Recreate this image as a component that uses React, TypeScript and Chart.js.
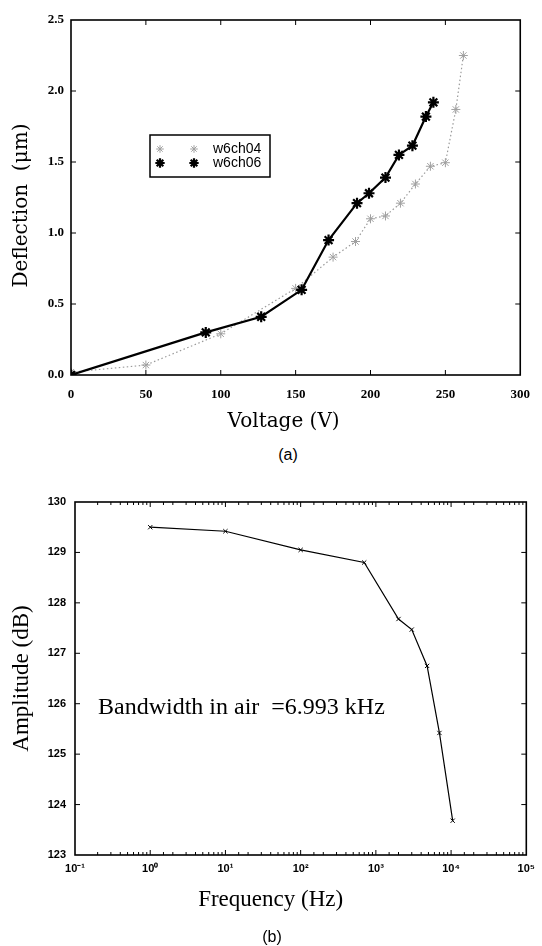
import React, { useEffect, useRef } from "react";
import { Chart, registerables } from "chart.js";
Chart.register(...registerables);

// ---------- Data: panel (a) ----------
const voltageTicks = [0, 50, 100, 150, 200, 250, 300];
const deflectionTicks = [0, 0.5, 1.0, 1.5, 2.0, 2.5];

const w6ch04Voltage = [0, 50, 100, 150, 175, 190, 200, 210, 220, 230, 240, 250, 257, 262];
const w6ch04Deflection = [0.02, 0.07, 0.29, 0.61, 0.83, 0.94, 1.1, 1.12, 1.21, 1.345, 1.47, 1.495, 1.87, 2.25];

const w6ch06Voltage = [0, 90, 127, 154, 172, 191, 199, 210, 219, 228, 237, 242];
const w6ch06Deflection = [0, 0.3, 0.41, 0.6, 0.95, 1.21, 1.28, 1.39, 1.55, 1.615, 1.82, 1.92];

const seriesNames = ["w6ch04", "w6ch06"];

// ---------- Data: panel (b) ----------
const frequencyHz = [1, 10, 100, 700, 2000, 3000, 4800, 7000, 10500];
const amplitudeDb = [129.5, 129.42, 129.05, 128.8, 127.68, 127.47, 126.75, 125.42, 123.68];
const frequencyTickLabels = ["10⁻¹", "10⁰", "10¹", "10²", "10³", "10⁴", "10⁵"];
const amplitudeTicks = [123, 124, 125, 126, 127, 128, 129, 130];
const annotationText = "Bandwidth in air  =6.993 kHz";

const isDecade = (v: number) => Math.abs(Math.log10(v) - Math.round(Math.log10(v))) < 1e-6;

const frameTicks = {
  id: "frameTicks",
  afterDraw(chart: any, _args: any, opts: any) {
    const { ctx, chartArea: a } = chart;
    const xs = chart.scales.x;
    const ys = chart.scales.y;
    ctx.save();
    ctx.strokeStyle = "#000";
    ctx.lineWidth = 1;
    const line = (x1: number, y1: number, x2: number, y2: number) => {
      ctx.beginPath();
      ctx.moveTo(x1, y1);
      ctx.lineTo(x2, y2);
      ctx.stroke();
    };
    xs.ticks.forEach((t: any) => {
      const px = xs.getPixelForValue(t.value);
      if (px < a.left + 0.5 || px > a.right - 0.5) return;
      const len = opts.logX ? (isDecade(t.value) ? opts.major : opts.minor) : opts.major;
      line(px, a.bottom, px, a.bottom - len);
      line(px, a.top, px, a.top + len);
    });
    ys.ticks.forEach((t: any) => {
      const py = ys.getPixelForValue(t.value);
      if (py < a.top + 0.5 || py > a.bottom - 0.5) return;
      line(a.left, py, a.left + opts.major, py);
      line(a.right, py, a.right - opts.major, py);
    });
    ctx.lineWidth = opts.frame;
    ctx.strokeRect(a.left, a.top, a.right - a.left, a.bottom - a.top);
    ctx.restore();
  },
};

// Axis titles, placed relative to the chart area
const axisTitles = {
  id: "axisTitles",
  afterDraw(chart: any, _args: any, opts: any) {
    const { ctx, chartArea: a } = chart;
    ctx.save();
    ctx.fillStyle = "#000";
    ctx.textAlign = "center";
    ctx.textBaseline = "middle";
    ctx.font = opts.font;
    ctx.fillText(opts.xText, (a.left + a.right) / 2 + opts.xdx, opts.xy);
    ctx.translate(opts.yx, (a.top + a.bottom) / 2 + opts.ydy);
    ctx.rotate(-Math.PI / 2);
    ctx.fillText(opts.yText, 0, 0);
    ctx.restore();
  },
};

const legendBox = {
  id: "legendBox",
  afterDraw(chart: any, _args: any, opts: any) {
    if (!opts.show) return;
    const { ctx } = chart;
    ctx.save();
    ctx.fillStyle = "#fff";
    ctx.fillRect(opts.x, opts.y, opts.w, opts.h);
    ctx.strokeStyle = "#000";
    ctx.lineWidth = 1.5;
    ctx.strokeRect(opts.x, opts.y, opts.w, opts.h);
    const rows = [chart.data.datasets[1], chart.data.datasets[0]];
    rows.forEach((ds: any, i: number) => {
      const cy = opts.y + 14 + i * 14;
      [opts.x + 10, opts.x + 44].forEach((cx) => {
        ctx.strokeStyle = ds.pointBorderColor;
        ctx.lineWidth = ds.pointBorderWidth;
        const r = ds.pointRadius * 0.85;
        ctx.beginPath();
        for (let k = 0; k < 4; k++) {
          const ang = (k * Math.PI) / 4;
          ctx.moveTo(cx - Math.cos(ang) * r, cy - Math.sin(ang) * r);
          ctx.lineTo(cx + Math.cos(ang) * r, cy + Math.sin(ang) * r);
        }
        ctx.stroke();
      });
      ctx.fillStyle = "#000";
      ctx.font = "14px 'Liberation Sans', Arial, sans-serif";
      ctx.textBaseline = "middle";
      ctx.fillText(ds.label, opts.x + 63, cy);
    });
    ctx.restore();
  },
};

function DeflectionChart() {
  const ref = useRef<HTMLCanvasElement>(null);
  useEffect(() => {
    const chart = new Chart(ref.current as HTMLCanvasElement, {
      type: "scatter",
      data: {
        datasets: [
          {
            label: seriesNames[1],
            data: w6ch06Voltage.map((v, i) => ({ x: v, y: w6ch06Deflection[i] })),
            showLine: true,
            borderColor: "#000",
            borderWidth: 2.2,
            pointStyle: "star",
            pointRadius: 5.5,
            pointBorderColor: "#000",
            pointBorderWidth: 2.2,
            pointBackgroundColor: "#000",
          },
          {
            label: seriesNames[0],
            data: w6ch04Voltage.map((v, i) => ({ x: v, y: w6ch04Deflection[i] })),
            showLine: true,
            borderColor: "#9a9a9a",
            borderWidth: 1.2,
            borderDash: [1.5, 2.5],
            pointStyle: "star",
            pointRadius: 4.5,
            pointBorderColor: "#a0a0a0",
            pointBorderWidth: 1,
            pointBackgroundColor: "#a0a0a0",
          },
        ],
      },
      options: {
        animation: false,
        responsive: false,
        layout: { padding: { top: 20, right: 12, left: 0, bottom: 0 } },
        plugins: {
          legend: { display: false },
          tooltip: { enabled: false },
          frameTicks: { major: 5, minor: 3, frame: 1.6, logX: false },
          legendBox: { show: true, x: 150, y: 135, w: 120, h: 42 },
          axisTitles: {
            font: "20px 'DejaVu Serif', serif",
            xText: "Voltage (V)",
            xdx: -12,
            xy: 422,
            yText: "Deflection  (μm)",
            yx: 22,
            ydy: 8,
          },
        } as any,
        scales: {
          x: {
            type: "linear",
            min: voltageTicks[0],
            max: voltageTicks[voltageTicks.length - 1],
            afterBuildTicks: (s: any) => {
              s.ticks = voltageTicks.map((v) => ({ value: v }));
            },
            afterFit: (s: any) => {
              s.height = 65;
            },
            grid: { display: false, drawTicks: false },
            border: { display: false },
            ticks: {
              color: "#000",
              padding: 12,
              maxRotation: 0,
              font: { family: "'Liberation Serif', serif", size: 13, weight: "bold" },
            },
          },
          y: {
            type: "linear",
            min: deflectionTicks[0],
            max: deflectionTicks[deflectionTicks.length - 1],
            afterBuildTicks: (s: any) => {
              s.ticks = deflectionTicks.map((v) => ({ value: v }));
            },
            afterFit: (s: any) => {
              s.width = 71;
            },
            grid: { display: false, drawTicks: false },
            border: { display: false },
            ticks: {
              color: "#000",
              padding: 7,
              callback: (v: any) => Number(v).toFixed(1),
              font: { family: "'Liberation Serif', serif", size: 13, weight: "bold" },
            },
          },
        },
      },
      plugins: [frameTicks, legendBox, axisTitles],
    } as any);
    return () => chart.destroy();
  }, []);
  return <canvas ref={ref} width={542} height={440} style={{ position: "absolute", left: 0, top: 0 }} />;
}

function FrequencyChart() {
  const ref = useRef<HTMLCanvasElement>(null);
  useEffect(() => {
    const chart = new Chart(ref.current as HTMLCanvasElement, {
      type: "scatter",
      data: {
        datasets: [
          {
            label: "Amplitude",
            data: frequencyHz.map((f, i) => ({ x: f, y: amplitudeDb[i] })),
            showLine: true,
            borderColor: "#000",
            borderWidth: 1.2,
            pointStyle: "crossRot",
            pointRadius: 3,
            pointBorderColor: "#000",
            pointBorderWidth: 1,
          },
        ],
      },
      options: {
        animation: false,
        responsive: false,
        layout: { padding: { top: 42, right: 15, left: 0, bottom: 0 } },
        plugins: {
          legend: { display: false },
          tooltip: { enabled: false },
          frameTicks: { major: 5, minor: 3, frame: 1.6, logX: true },
          axisTitles: {
            font: "23px 'Liberation Serif', serif",
            xText: "Frequency (Hz)",
            xdx: -30,
            xy: 440,
            yText: "Amplitude (dB)",
            yx: 22,
            ydy: 0,
          },
        } as any,
        scales: {
          x: {
            type: "logarithmic",
            min: 0.1,
            max: 100000,
            afterFit: (s: any) => {
              s.height = 91;
            },
            grid: { display: false, drawTicks: false },
            border: { display: false },
            ticks: {
              color: "#000",
              padding: 7,
              autoSkip: false,
              maxRotation: 0,
              callback: (v: any) => {
                const n = Number(v);
                if (!isDecade(n)) return "";
                return frequencyTickLabels[Math.round(Math.log10(n)) + 1];
              },
              font: { family: "'Liberation Sans', Arial, sans-serif", size: 11, weight: "bold" },
            },
          },
          y: {
            type: "linear",
            min: amplitudeTicks[0],
            max: amplitudeTicks[amplitudeTicks.length - 1],
            afterBuildTicks: (s: any) => {
              s.ticks = amplitudeTicks.map((v) => ({ value: v }));
            },
            afterFit: (s: any) => {
              s.width = 75;
            },
            grid: { display: false, drawTicks: false },
            border: { display: false },
            ticks: {
              color: "#000",
              padding: 9,
              font: { family: "'Liberation Sans', Arial, sans-serif", size: 11, weight: "bold" },
            },
          },
        },
      },
      plugins: [frameTicks, axisTitles],
    } as any);
    return () => chart.destroy();
  }, []);
  return <canvas ref={ref} width={542} height={486} style={{ position: "absolute", left: 0, top: 460 }} />;
}

export default function App() {
  const caption: React.CSSProperties = {
    position: "absolute",
    width: 60,
    textAlign: "center",
    font: "16px 'Liberation Sans', Arial, sans-serif",
    lineHeight: "18px",
    color: "#000",
  };
  return (
    <div style={{ position: "absolute", left: 0, top: 0, width: 542, height: 946, background: "#fff", overflow: "hidden" }}>
      <DeflectionChart />
      <div style={{ ...caption, left: 258, top: 446 }}>(a)</div>
      <FrequencyChart />
      <div
        style={{
          position: "absolute",
          left: 98,
          top: 694,
          font: "24px 'Liberation Serif', serif",
          lineHeight: "24px",
          whiteSpace: "pre",
          color: "#000",
        }}
      >
        {annotationText}
      </div>
      <div style={{ ...caption, left: 242, top: 928 }}>(b)</div>
    </div>
  );
}
